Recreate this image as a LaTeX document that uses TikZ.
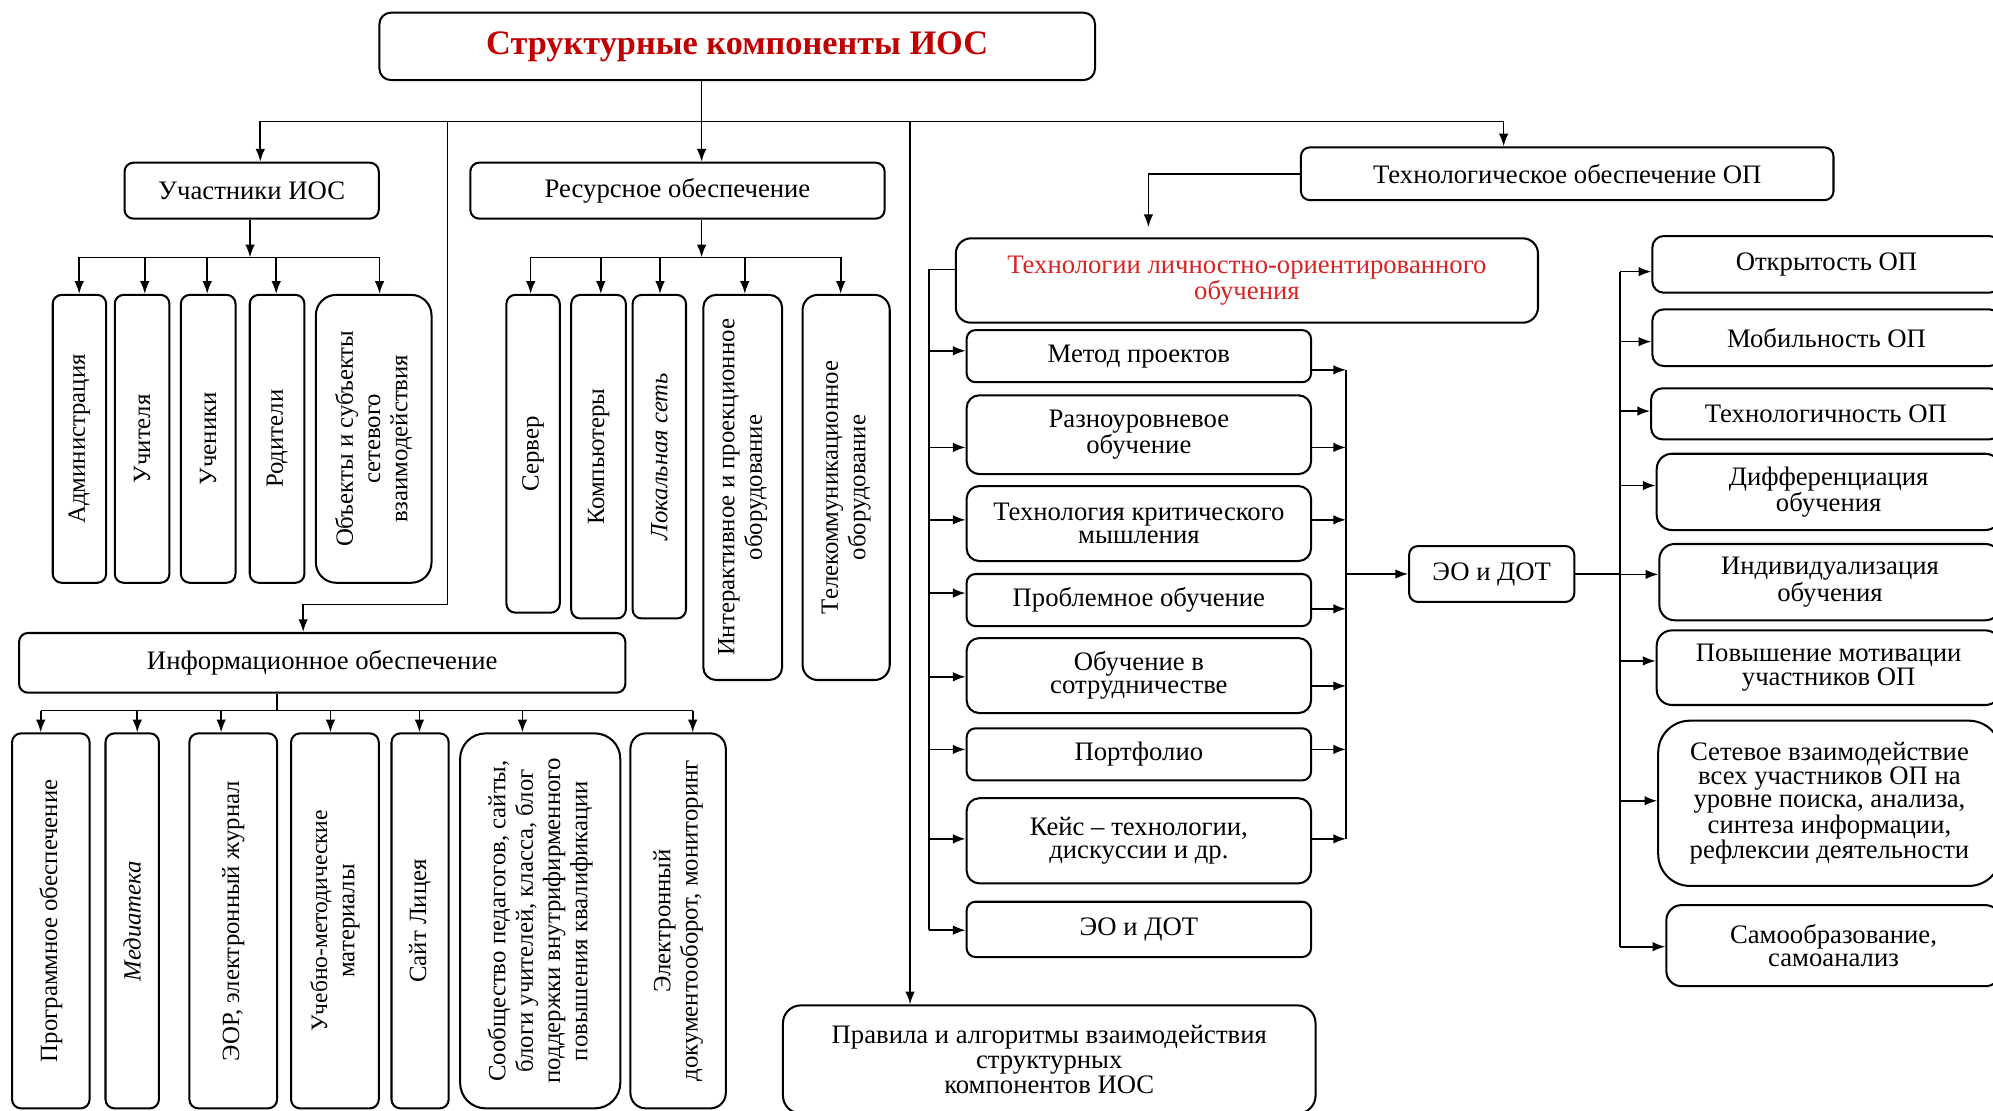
\documentclass[tikz,border=0pt]{standalone}
\usepackage{fontspec}
\setmainfont{Liberation Serif}
\usetikzlibrary{arrows.meta}
\definecolor{titlered}{RGB}{192,0,0}
\definecolor{lored}{RGB}{215,35,35}
\newcommand\tx{\fontsize{21}{18.5}\selectfont}
\newcommand\txr{\fontsize{19.5}{21.5}\selectfont}
\newcommand\txt{\fontsize{27}{30}\selectfont\bfseries}
\begin{document}
\begin{tikzpicture}[x=1pt,y=-1pt,
 box/.style={draw, line width=1.6pt, rounded corners=7pt, fill=white, inner sep=0pt, align=center, font=\tx},
 vbox/.style={box, rotate=90, font=\txr},
 conn/.style={draw, line width=1.3pt},
 arr/.style={conn, -{Latex[length=10pt,width=7.5pt]}}]
\useasboundingbox (0,0) rectangle (1568,874);

% top level
\node[box, minimum width=563, minimum height=53, font=\txt, text=titlered, rounded corners=9pt] (top) at (580,36.5) {Структурные компоненты ИОС};
\node[box, minimum width=200, minimum height=44] (uch) at (198,150) {Участники ИОС};
\node[box, minimum width=326, minimum height=44] (res) at (533,150) {Ресурсное обеспечение};
\node[box, minimum width=419, minimum height=41.5] (tech) at (1233,136.7) {Технологическое обеспечение ОП};
\node[box, minimum width=477, minimum height=47] (info) at (253.5,521.5) {Информационное обеспечение};
\node[box, minimum width=419, minimum height=85, rounded corners=14pt, font=\fontsize{21}{20}\selectfont] (rules) at (825.5,833.5) {Правила и алгоритмы взаимодействия\\структурных\\компонентов ИОС};

% participants
\node[vbox, minimum width=226.5, minimum height=42] (adm) at (62.5,345.25) {Администрация};
\node[vbox, minimum width=226.5, minimum height=43] (tea) at (111.8,345.25) {Учителя};
\node[vbox, minimum width=226.5, minimum height=43] (stu) at (163.8,345.25) {Ученики};
\node[vbox, minimum width=226.5, minimum height=43] (par) at (218,345.25) {Родители};
\node[vbox, minimum width=226.5, minimum height=91, rounded corners=16pt] (obj) at (294,345.25) {Объекты и субъекты\\сетевого\\взаимодействия};

% resources
\node[vbox, minimum width=250, minimum height=42] (srv) at (419.4,357) {Сервер};
\node[vbox, minimum width=254.5, minimum height=43] (pc) at (470.9,359.3) {Компьютеры};
\node[vbox, minimum width=254.5, minimum height=42] (lan) at (518.7,359.3) {\itshape Локальная сеть};
\node[vbox, minimum width=303, minimum height=62, rounded corners=10pt] (inter) at (584.3,383.5) {Интерактивное и проекционное\\оборудование};
\node[vbox, minimum width=303, minimum height=68.6, rounded corners=12pt] (tele) at (665.7,383.5) {Телекоммуникационное\\оборудование};

% information
\node[vbox, minimum width=295, minimum height=61] (prog) at (40,724.5) {Программное обеспечение};
\node[vbox, minimum width=295, minimum height=42] (med) at (104,724.5) {\itshape Медиатека};
\node[vbox, minimum width=295, minimum height=69] (eor) at (183.5,724.5) {ЭОР, электронный журнал};
\node[vbox, minimum width=295, minimum height=69] (umm) at (263.5,724.5) {\fontsize{18.5}{21}\selectfont Учебно-методические\\материалы};
\node[vbox, minimum width=295, minimum height=45] (site) at (330.5,724.5) {Сайт Лицея};
\node[vbox, minimum width=295, minimum height=126, rounded corners=20pt] (comm) at (425,724.5) {Сообщество педагогов, сайты,\\блоги учителей, класса, блог\\поддержки внутрифирменного\\повышения квалификации};
\node[vbox, minimum width=295, minimum height=75, rounded corners=12pt] (edoc) at (533.5,724.5) {Электронный\\документооборот, мониторинг};

% technologies
\node[box, minimum width=458, minimum height=66.4, rounded corners=12pt, text=lored] (tlo) at (981,220.7) {Технологии личностно-ориентированного\\обучения};
\node[box, minimum width=271, minimum height=41] (metod) at (896,280.2) {Метод проектов};
\node[box, minimum width=271, minimum height=62, rounded corners=10pt] (razn) at (896,342) {Разноуровневое\\обучение};
\node[box, minimum width=271, minimum height=59, rounded corners=10pt] (krit) at (896,411.9) {Технология критического\\мышления};
\node[box, minimum width=271, minimum height=41] (probl) at (896,472.1) {Проблемное обучение};
\node[box, minimum width=271, minimum height=59, rounded corners=10pt] (sotr) at (896,531.5) {Обучение в\\сотрудничестве};
\node[box, minimum width=271, minimum height=41] (port) at (896,593.5) {Портфолио};
\node[box, minimum width=271, minimum height=67, rounded corners=10pt] (case) at (896,661.5) {Кейс – технологии,\\дискуссии и др.};
\node[box, minimum width=271, minimum height=43.5] (eodA) at (896,731.2) {ЭО и ДОТ};
\node[box, minimum width=130, minimum height=44] (eodB) at (1173.6,451.6) {ЭО и ДОТ};

% right column
\node[box, minimum width=274, minimum height=44.6, rounded corners=9pt] (open) at (1437,208) {Открытость ОП};
\node[box, minimum width=274, minimum height=44.6, rounded corners=9pt] (mob) at (1437,265.7) {Мобильность ОП};
\node[box, minimum width=275, minimum height=40.2, rounded corners=9pt] (techn) at (1436.5,325.6) {Технологичность ОП};
\node[box, minimum width=270.6, minimum height=60, rounded corners=12pt] (diff) at (1438.7,387) {Дифференциация\\обучения};
\node[box, minimum width=268.5, minimum height=60, rounded corners=12pt] (ind) at (1439.75,458) {Индивидуализация\\обучения};
\node[box, minimum width=270.6, minimum height=58.7, rounded corners=12pt] (mot) at (1438.7,525.3) {Повышение мотивации\\участников ОП};
\node[box, minimum width=269.4, minimum height=130, rounded corners=25pt] (net) at (1439.3,632) {Сетевое взаимодействие\\всех участников ОП на\\уровне поиска, анализа,\\синтеза информации,\\рефлексии деятельности};
\node[box, minimum width=263, minimum height=63.8, rounded corners=12pt] (self) at (1442.5,744) {Самообразование,\\самоанализ};

% connectors: top bus
\coordinate (topd) at (552,95.5);
\coordinate (busL) at (204.8,95.5);
\coordinate (busR) at (1183,95.5);
\coordinate (v1) at (352,95.5);
\coordinate (v1b) at (352,475.5);
\coordinate (v1c) at (238.5,475.5);
\coordinate (v2) at (716,95.5);
\draw[conn] (topd |- top.south) -- (topd);
\draw[conn] (busL) -- (busR);
\draw[arr] (busL) -- (busL |- uch.north);
\draw[arr] (topd) -- (topd |- res.north);
\draw[arr] (busR) -- (busR |- tech.north);
\draw[arr] (v1) -- (v1b) -- (v1c) -- (v1c |- info.north);
\draw[arr] (v2) -- (v2 |- rules.north);

% participants bus
\coordinate (ud) at (196.7,202.5);
\draw[arr] (ud |- uch.south) -- (ud);
\foreach \n/\x in {adm/62.3, tea/113.9, stu/163, par/217.3, obj/298.6} {
  \coordinate (u\n) at (\x,202.5);
  \draw[arr] (u\n) -- (u\n |- \n.east);
}
\draw[conn] (uadm) -- (uobj);

% resources bus
\coordinate (rd) at (552,202.5);
\draw[arr] (rd |- res.south) -- (rd);
\foreach \n/\x in {srv/417.5, pc/472.7, lan/519.3, inter/586, tele/661.4} {
  \coordinate (r\n) at (\x,202.5);
  \draw[arr] (r\n) -- (r\n |- \n.east);
}
\draw[conn] (rsrv) -- (rtele);

% information bus
\coordinate (id) at (218,559);
\draw[conn] (id |- info.south) -- (id);
\foreach \n/\x in {prog/32, med/108, eor/174, umm/260, site/330, comm/411, edoc/545} {
  \coordinate (i\n) at (\x,559);
  \draw[arr] (i\n) -- (i\n |- \n.east);
}
\draw[conn] (iprog) -- (iedoc);

% technology
\coordinate (tk) at (903.5,0);
\draw[arr, shorten >=8pt] (tech.west) -- (tech.west -| tk) -- (tk |- tlo.north);

\coordinate (lt) at (731,212);
\coordinate (lb) at (731,731.8);
\draw[conn] (lt -| tlo.west) -- (lt) -- (lb);
\foreach \n/\y in {metod/276, razn/352, krit/409, probl/466.6, sotr/532.5, port/589.6, case/660, eodA/731.8} {
  \coordinate (L\n) at (731,\y);
  \draw[arr] (L\n) -- (L\n -| \n.west);
}
\foreach \n/\y in {metod/291, razn/352, krit/409, probl/479, sotr/539.7, port/589.6, case/660} {
  \coordinate (R\n) at (1059,\y);
  \draw[arr] (R\n -| \n.east) -- (R\n);
}
\draw[conn] (Rmetod) -- (Rcase);
\coordinate (Rm) at (1059,451.6);
\draw[arr] (Rm) -- (Rm -| eodB.west);

% right bus
\coordinate (ft) at (1274.6,213.7);
\coordinate (fb) at (1274.6,744.8);
\draw[conn] (ft) -- (fb);
\foreach \n/\y in {open/213.7, mob/268.8, techn/323.4, diff/382, ind/451.9, mot/520, net/630, self/744.8} {
  \coordinate (F\n) at (1274.6,\y);
  \draw[arr] (F\n) -- (F\n -| \n.west);
}
\draw[conn] (eodB.east) -- (eodB.east -| ft);
\end{tikzpicture}
\end{document}
